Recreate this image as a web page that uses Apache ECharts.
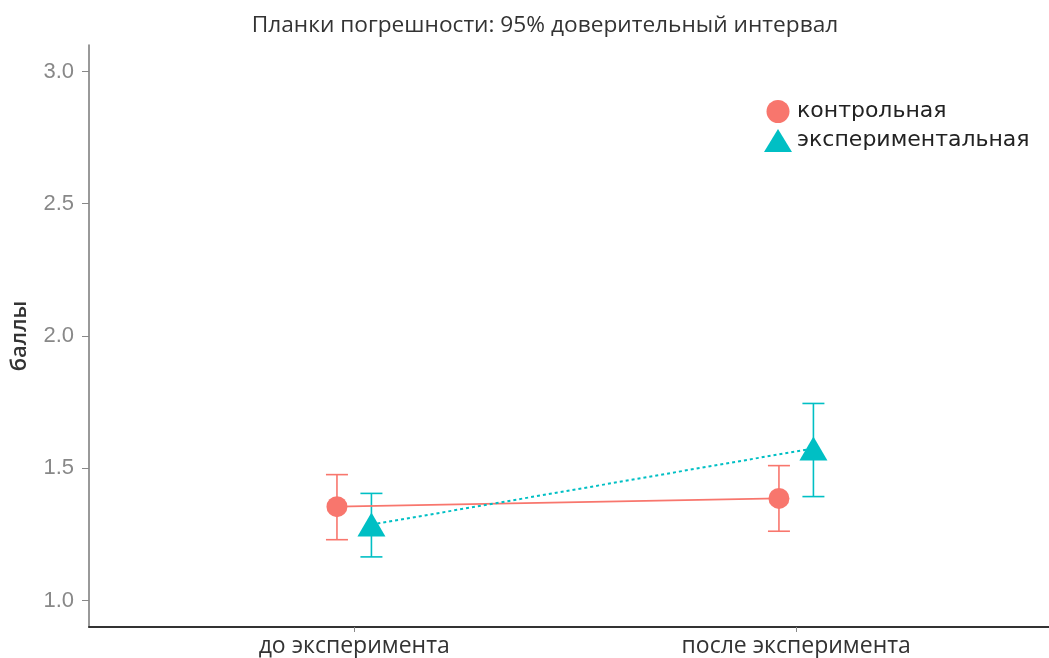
<!DOCTYPE html>
<html>
<head>
<meta charset="utf-8">
<script src="https://cdn.jsdelivr.net/npm/echarts@6/dist/echarts.min.js"></script>
<style>
  html, body { margin: 0; padding: 0; background: #fff; }
  #chart { width: 1049px; height: 658px; }
</style>
</head>
<body>
<div id="chart"></div>
<script>
// данные
var categories = ["до эксперимента", "после эксперимента"];
var groups = ["контрольная", "экспериментальная"];
var ctrlMean = [1.355, 1.386];
var ctrlLow = [1.230, 1.262];
var ctrlHigh = [1.476, 1.510];
var expMean = [1.287, 1.575];
var expLow = [1.165, 1.393];
var expHigh = [1.405, 1.745];
var yTicks = [1.0, 1.5, 2.0, 2.5, 3.0];

var colors = ["#F8766D", "#00BFC4"];
var DODGE = 0.039; // сдвиг групп по оси x

function pos(i, g) {
  return i + 1 + (g === 0 ? -DODGE : DODGE);
}

function pointData(means, g) {
  return means.map(function (m, i) { return [pos(i, g), m]; });
}
function barData(lo, hi, g) {
  return lo.map(function (l, i) { return [pos(i, g), l, hi[i]]; });
}

function errorBar(color) {
  return function (params, api) {
    var x = api.value(0);
    var a = api.coord([x, api.value(1)]);
    var b = api.coord([x, api.value(2)]);
    var w = 11;
    var st = { stroke: color, lineWidth: 1.6 };
    return {
      type: "group",
      children: [
        { type: "line", shape: { x1: a[0], y1: a[1], x2: b[0], y2: b[1] }, style: st },
        { type: "line", shape: { x1: a[0] - w, y1: a[1], x2: a[0] + w, y2: a[1] }, style: st },
        { type: "line", shape: { x1: b[0] - w, y1: b[1], x2: b[0] + w, y2: b[1] }, style: st }
      ]
    };
  };
}

var myChart = echarts.init(document.getElementById("chart"));
var option = {
  animation: false,
  title: {
    text: "Планки погрешности: 95% доверительный интервал",
    left: 540,
    top: 9,
    textAlign: "center",
    textStyle: { fontFamily: "Open Sans", fontSize: 22.7, fontWeight: "normal", color: "#333" }
  },
  legend: {
    orient: "vertical",
    left: 759,
    top: 95,
    itemWidth: 28,
    itemHeight: 23,
    itemGap: 6,
    textStyle: { fontFamily: "DejaVu Sans", fontSize: 22, color: "#222" },
    data: [
      { name: groups[0], icon: "circle" },
      { name: groups[1], icon: "triangle" }
    ]
  },
  grid: { left: 89, right: 0, top: 45, bottom: 31, containLabel: false, outerBoundsMode: "none" },
  xAxis: {
    type: "value",
    min: 0.4,
    max: 2.572,
    splitLine: { show: false },
    axisLine: { lineStyle: { color: "#333", width: 2 } },
    axisTick: { customValues: [1, 2], length: 5, lineStyle: { color: "#888" } },
    axisLabel: {
      customValues: [1, 2],
      margin: 8,
      fontFamily: "Open Sans",
      fontSize: 23,
      color: "#333",
      formatter: function (v) { return categories[Math.round(v) - 1] || ""; }
    }
  },
  yAxis: {
    type: "value",
    min: 0.9,
    max: 3.1,
    name: "баллы",
    nameLocation: "middle",
    nameGap: 58,
    nameTextStyle: { fontFamily: "Open Sans", fontSize: 22, fontWeight: 600, color: "#333" },
    splitLine: { show: false },
    axisLine: { show: true, lineStyle: { color: "#777", width: 1.5 } },
    axisTick: { show: true, customValues: yTicks, length: 7, lineStyle: { color: "#888" } },
    axisLabel: {
      customValues: yTicks,
      margin: 15,
      fontFamily: "Liberation Sans",
      fontSize: 22,
      color: "#888",
      formatter: function (v) { return v.toFixed(1); }
    }
  },
  series: [
    {
      name: "ci-ctrl",
      type: "custom",
      renderItem: errorBar(colors[0]),
      encode: { x: 0, y: [1, 2] },
      data: barData(ctrlLow, ctrlHigh, 0),
      z: 2
    },
    {
      name: "ci-exp",
      type: "custom",
      renderItem: errorBar(colors[1]),
      encode: { x: 0, y: [1, 2] },
      data: barData(expLow, expHigh, 1),
      z: 2
    },
    {
      name: groups[0],
      type: "line",
      data: pointData(ctrlMean, 0),
      symbol: "circle",
      symbolSize: 21,
      color: colors[0],
      itemStyle: { color: colors[0] },
      lineStyle: { color: colors[0], width: 1.8, type: "solid" },
      z: 3
    },
    {
      name: groups[1],
      type: "line",
      data: pointData(expMean, 1),
      symbol: "triangle",
      symbolSize: [28, 24],
      color: colors[1],
      itemStyle: { color: colors[1] },
      lineStyle: { color: colors[1], width: 2, type: [3, 3] },
      z: 3
    }
  ]
};
myChart.setOption(option);
</script>
</body>
</html>
